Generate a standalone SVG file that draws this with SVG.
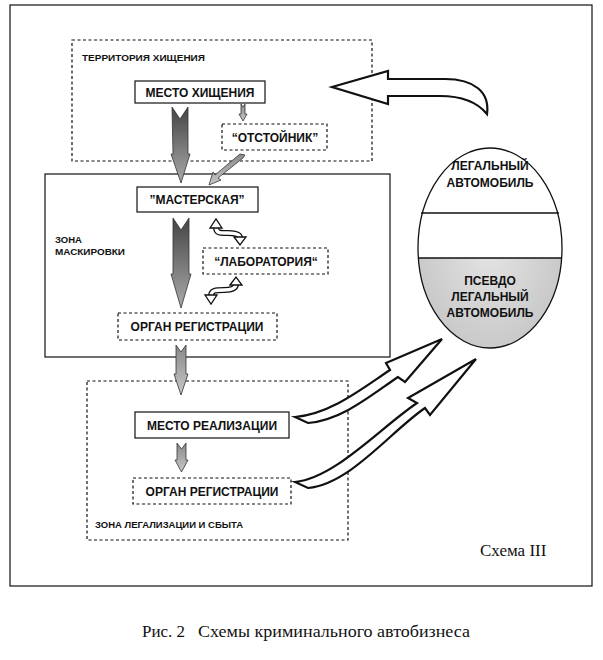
<svg xmlns="http://www.w3.org/2000/svg" width="603" height="660" viewBox="0 0 603 660">
<defs>
<linearGradient id="gDark" x1="0" y1="0" x2="0" y2="1">
<stop offset="0" stop-color="#444"/><stop offset="0.5" stop-color="#777"/><stop offset="1" stop-color="#aaa"/>
</linearGradient>
<linearGradient id="gLight" x1="0" y1="0" x2="0" y2="1">
<stop offset="0" stop-color="#888"/><stop offset="1" stop-color="#c8c8c8"/>
</linearGradient>
<radialGradient id="gOval" cx="0.5" cy="0.5" r="0.6">
<stop offset="0" stop-color="#e4e4e4"/><stop offset="1" stop-color="#c4c4c4"/>
</radialGradient>
<clipPath id="lowerClip"><rect x="410" y="258" width="160" height="100"/></clipPath>
</defs>
<style>
.lbl{font-family:"Liberation Sans",Arial,sans-serif;font-weight:bold;font-size:12px;fill:#111;text-anchor:middle}
.sm{font-family:"Liberation Sans",Arial,sans-serif;font-weight:bold;font-size:9.5px;fill:#111}
.cap{font-family:"Liberation Serif","Times New Roman",serif;font-size:17px;fill:#111}
.solid{fill:#fff;stroke:#111;stroke-width:1.2}
.dash{fill:none;stroke:#111;stroke-width:1.2;stroke-dasharray:3,2.5}
.dashw{fill:#fff;stroke:#111;stroke-width:1.2;stroke-dasharray:3,2.5}
.hollow{fill:#fff;stroke:#111;stroke-width:2.2;stroke-linejoin:miter}
.ga{stroke:#333;stroke-width:0.8}
.tubeO{fill:none;stroke:#111;stroke-width:6;stroke-linecap:butt}
.tubeI{fill:none;stroke:#fff;stroke-width:3.4;stroke-linecap:butt}
.head{fill:#fff;stroke:#111;stroke-width:1.3}
</style>
<rect x="10" y="5" width="582" height="581" fill="none" stroke="#111" stroke-width="1.2"/>

<g id="zone-theft">
<rect class="dash" x="72" y="40" width="300" height="121"/>
<text class="sm" x="82" y="61" textLength="123" lengthAdjust="spacingAndGlyphs">ТЕРРИТОРИЯ ХИЩЕНИЯ</text>
</g>
<g id="zone-mask">
<rect class="solid" x="45" y="174" width="345" height="183"/>
<text class="sm" x="55" y="243">ЗОНА</text>
<text class="sm" x="55" y="255" textLength="70" lengthAdjust="spacingAndGlyphs">МАСКИРОВКИ</text>
</g>
<g id="zone-legal">
<rect class="dash" x="87" y="381" width="261" height="159"/>
<text class="sm" x="95" y="528" textLength="148" lengthAdjust="spacingAndGlyphs">ЗОНА ЛЕГАЛИЗАЦИИ И СБЫТА</text>
</g>

<g id="n-theft">
<rect class="solid" x="135" y="81" width="130" height="22"/>
<text class="lbl" x="200" y="97">МЕСТО ХИЩЕНИЯ</text>
</g>
<g id="n-otst">
<rect class="dashw" x="222" y="124" width="105" height="26"/>
<text class="lbl" x="275" y="142">“ОТСТОЙНИК”</text>
</g>
<g id="n-master">
<rect class="solid" x="137" y="187" width="121" height="25"/>
<text class="lbl" x="197" y="204">”МАСТЕРСКАЯ”</text>
</g>
<g id="n-lab">
<rect class="dashw" x="203" y="248" width="125" height="26"/>
<text class="lbl" x="266" y="266">“ЛАБОРАТОРИЯ“</text>
</g>
<g id="n-reg1">
<rect class="dashw" x="118" y="313" width="159" height="27"/>
<text class="lbl" x="197" y="331">ОРГАН РЕГИСТРАЦИИ</text>
</g>
<g id="n-sale">
<rect class="solid" x="135" y="412" width="154" height="26"/>
<text class="lbl" x="212" y="430">МЕСТО РЕАЛИЗАЦИИ</text>
</g>
<g id="n-reg2">
<rect class="dashw" x="133" y="478" width="158" height="26"/>
<text class="lbl" x="212" y="496">ОРГАН РЕГИСТРАЦИИ</text>
</g>

<g id="n-car">
<ellipse cx="490" cy="248" rx="72" ry="100" fill="#fff"/>
<ellipse cx="490" cy="248" rx="72" ry="100" fill="url(#gOval)" clip-path="url(#lowerClip)"/>
<ellipse cx="490" cy="248" rx="72" ry="100" fill="none" stroke="#111" stroke-width="1.3"/>
<line x1="421" y1="213" x2="559" y2="213" stroke="#111" stroke-width="1.3"/>
<line x1="419" y1="258" x2="561" y2="258" stroke="#111" stroke-width="1.3"/>
<text class="lbl" x="490" y="170">ЛЕГАЛЬНЫЙ</text>
<text class="lbl" x="490" y="187">АВТОМОБИЛЬ</text>
<text class="lbl" x="490" y="285">ПСЕВДО</text>
<text class="lbl" x="490" y="301">ЛЕГАЛЬНЫЙ</text>
<text class="lbl" x="490" y="317">АВТОМОБИЛЬ</text>
</g>

<g id="connectors">
<path class="ga" fill="url(#gDark)" d="M172,107 L180,119 L188,107 L188,154 L190,154 L181,183 L171,154 L173,154 Z"/>
<path class="ga" fill="url(#gLight)" d="M241,104 L243,107 L245,104 L245,114 L247,114 L243,121 L239,114 L241,114 Z"/>
<path class="ga" fill="url(#gLight)" d="M245,155 L240,154 L215,175 L213,172 L209,185 L221,180 L218,178 L243,158 Z"/>
<path class="ga" fill="url(#gDark)" d="M173,218 L181,230 L189,218 L189,274 L191,274 L181,308 L171,274 L173,274 Z"/>
<path class="ga" fill="url(#gLight)" d="M176,345 L181,352 L186,345 L186,374 L188,374 L181,395 L174,374 L176,374 Z"/>
<path class="ga" fill="url(#gLight)" d="M177,443 L181.5,449 L186,443 L186,460 L188,460 L181.5,472 L175,460 L177,460 Z"/>

<path class="tubeO" d="M216,227 C216,234 221,233 228,233 C235,233 240,234 240,238"/>
<path class="tubeI" d="M216,227 C216,234 221,233 228,233 C235,233 240,234 240,238"/>
<path class="head" d="M210,228 L216,219 L222,228 Z"/>
<path class="head" d="M234,237 L240,245 L246,237 Z"/>

<path class="tubeO" d="M211,296 C211,290 216,290 224,290 C231,290 236,289 236,284"/>
<path class="tubeI" d="M211,296 C211,290 216,290 224,290 C231,290 236,289 236,284"/>
<path class="head" d="M205,295 L211,304 L217,295 Z"/>
<path class="head" d="M230,285 L236,277 L242,285 Z"/>

<path class="hollow" d="M332,87 L388,71 L388,79 L445,79 C474,79 490,92 487,114 C478,103 462,96 440,96 L388,96 L388,104 Z"/>
<path class="hollow" d="M295,417 C330,414 360,390 390,370 L386,363 L442,339 L405,382 L398,377 C370,396 342,420 308,423 Z"/>
<path class="hollow" d="M295,482 C335,478 380,428 417,403 L408,398 L476,359 L430,415 L425,408 C390,432 350,484 308,488 Z"/>
</g>

<text class="cap" x="480" y="556">Схема III</text>
<text class="cap" x="142" y="637">Рис. 2</text>
<text class="cap" x="198" y="637" textLength="272" lengthAdjust="spacingAndGlyphs">Схемы криминального автобизнеса</text>
</svg>
